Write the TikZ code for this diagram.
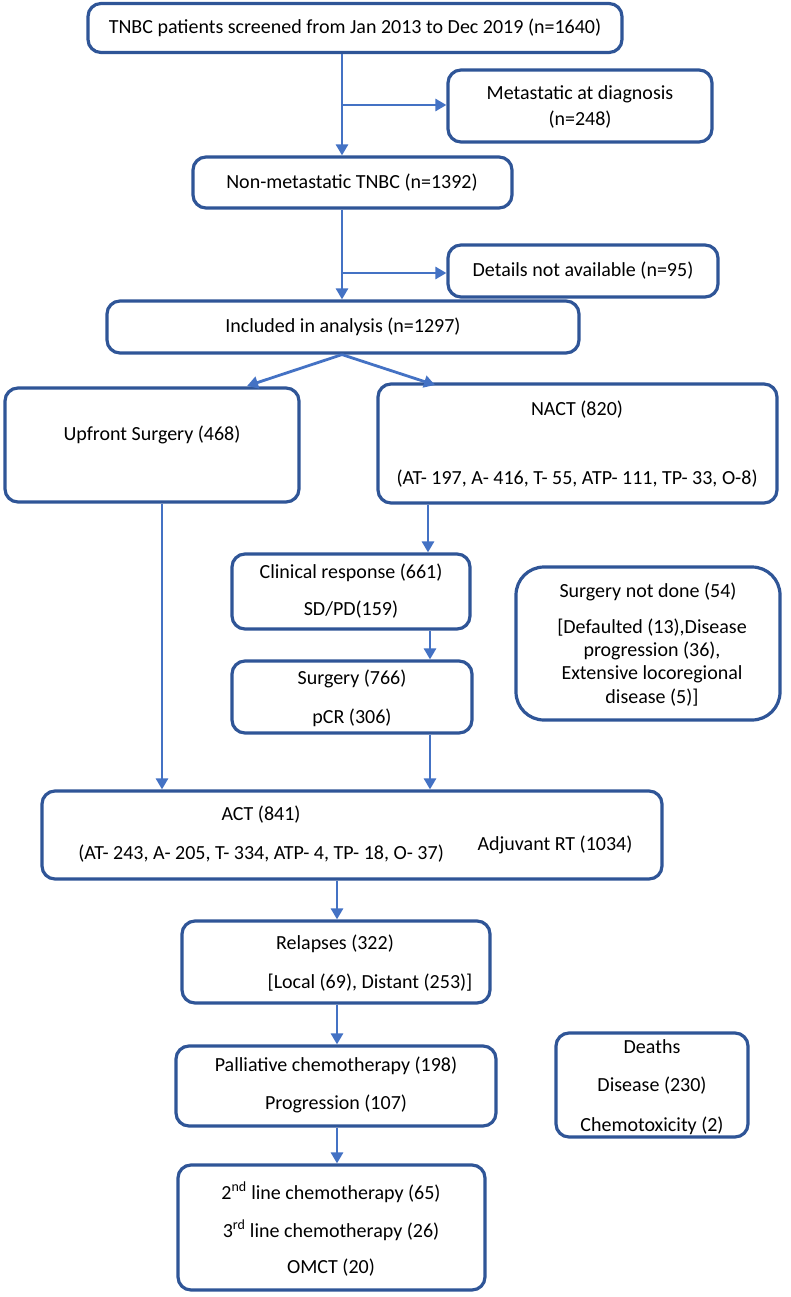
\documentclass[tikz,border=0pt]{standalone}
\usepackage{fontspec}
\setmainfont{Carlito}
\usetikzlibrary{arrows.meta}
\definecolor{boxc}{HTML}{2F5597}
\definecolor{arrc}{HTML}{4472C4}
\tikzset{
  box/.style={draw=boxc, line width=3.2pt, rounded corners=13pt, inner sep=0pt, fill=white},
  arr/.style={draw=arrc, line width=2.8pt, -{Triangle[length=11pt,width=12pt]}},
  txt/.style={font=\fontsize{20}{24}\selectfont, inner sep=0pt, text=black}
}
\begin{document}
\begin{tikzpicture}[x=1pt,y=-1pt]
\useasboundingbox (0,0) rectangle (790,1297);
% boxes
\node[box, minimum width=534, minimum height=49] (top) at (355,28) {};
\node[box, minimum width=264, minimum height=72] (meta) at (580,106) {};
\node[box, minimum width=319, minimum height=51] (nonm) at (352.5,182.5) {};
\node[box, minimum width=270, minimum height=52] (det) at (583,271) {};
\node[box, minimum width=472, minimum height=52] (incl) at (343,327) {};
\node[box, minimum width=294, minimum height=114] (upf) at (152,445) {};
\node[box, minimum width=399, minimum height=119] (nact) at (577.5,443.5) {};
\node[box, minimum width=238, minimum height=75] (clin) at (351,591.5) {};
\node[box, minimum width=240, minimum height=72] (surg) at (352,697) {};
\node[box, rounded corners=28pt, minimum width=264, minimum height=153] (snd) at (648,643.5) {};
\node[box, minimum width=620, minimum height=88] (act) at (352,835) {};
\node[box, minimum width=308, minimum height=82] (rel) at (336,962) {};
\node[box, minimum width=320, minimum height=80] (pal) at (336,1086) {};
\node[box, minimum width=192, minimum height=104] (dth) at (652,1085) {};
\node[box, minimum width=307, minimum height=125] (lines) at (331.5,1227.5) {};
% texts
\node[txt] (t1) at (355,28) {TNBC patients screened from Jan 2013 to Dec 2019 (n=1640)};
\node[txt] (t2) at (580,94) {Metastatic at diagnosis};
\node[txt] (t3) at (580,120) {(n=248)};
\node[txt] (t4) at (352,183) {Non-metastatic TNBC (n=1392)};
\node[txt] (t5) at (583,271) {Details not available (n=95)};
\node[txt] (t6) at (343,327) {Included in analysis (n=1297)};
\node[txt] (t7) at (152,435) {Upfront Surgery (468)};
\node[txt] (t8) at (577,410) {NACT (820)};
\node[txt] (t9) at (577,479) {(AT- 197, A- 416, T- 55, ATP- 111, TP- 33, O-8)};
\node[txt] (t10) at (351,573) {Clinical response (661)};
\node[txt] (t11) at (351,610) {SD/PD(159)};
\node[txt] (t12) at (352,679) {Surgery (766)};
\node[txt] (t13) at (352,718) {pCR (306)};
\node[txt] (t14) at (648,592) {Surgery not done (54)};
\node[txt] (t15) at (652,628) {[Defaulted (13),Disease};
\node[txt] (t16) at (652,651) {progression (36),};
\node[txt] (t17) at (652,674) {Extensive locoregional};
\node[txt] (t18) at (652,698) {disease (5)]};
\node[txt] (t19) at (261,815) {ACT (841)};
\node[txt] (t20) at (261,854) {(AT- 243, A- 205, T- 334, ATP- 4, TP- 18, O- 37)};
\node[txt] (t21) at (555,845) {Adjuvant RT (1034)};
\node[txt] (t22) at (335,944) {Relapses (322)};
\node[txt] (t23) at (370,983) {[Local (69), Distant (253)]};
\node[txt] (t24) at (336,1066) {Palliative chemotherapy (198)};
\node[txt] (t25) at (336,1104) {Progression (107)};
\node[txt] (t26) at (652,1047) {Deaths};
\node[txt] (t27) at (652,1086) {Disease (230)};
\node[txt] (t28) at (652,1126) {Chemotoxicity (2)};
\node[txt] (t29) at (331,1192) {2\textsuperscript{nd} line chemotherapy (65)};
\node[txt] (t30) at (331,1230) {3\textsuperscript{rd} line chemotherapy (26)};
\node[txt] (t31) at (331,1268) {OMCT (20)};
% connectors
\coordinate (xa) at (342,0);
\coordinate (b1) at (342,105);
\coordinate (b2) at (342,273);
\coordinate (xu) at (162,0);
\coordinate (xn) at (428,0);
\coordinate (xs) at (430,0);
\coordinate (xc) at (337,0);
\coordinate (e1) at (247,386);
\coordinate (e2) at (435,385);
\draw[arr] (top.south -| xa) -- (nonm.north -| xa);
\draw[arr] (b1) -- (b1 -| meta.west);
\draw[arr] (nonm.south -| xa) -- (incl.north -| xa);
\draw[arr] (b2) -- (b2 -| det.west);
\draw[arr] (incl.south -| xa) -- (e1);
\draw[arr] (incl.south -| xa) -- (e2);
\draw[arr] (upf.south -| xu) -- (act.north -| xu);
\draw[arr] (nact.south -| xn) -- (clin.north -| xn);
\draw[arr] (clin.south -| xs) -- (surg.north -| xs);
\draw[arr] (surg.south -| xs) -- (act.north -| xs);
\draw[arr] (act.south -| xc) -- (rel.north -| xc);
\draw[arr] (rel.south -| xc) -- (pal.north -| xc);
\draw[arr] (pal.south -| xc) -- (lines.north -| xc);
\end{tikzpicture}
\end{document}
